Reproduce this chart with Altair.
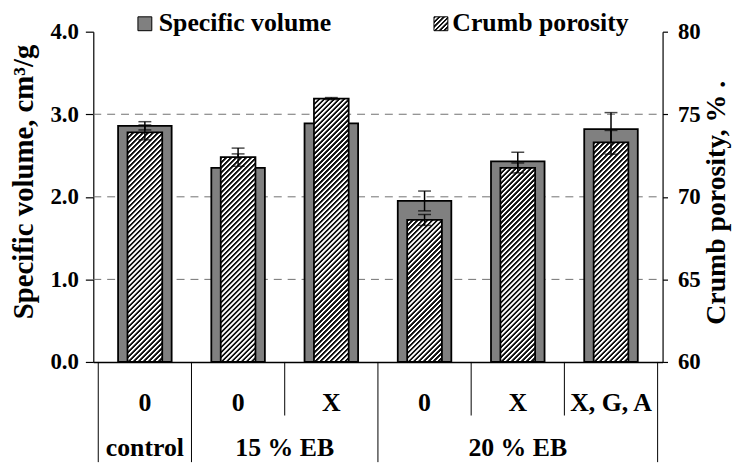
import altair as alt
import pandas as pd

# ---------------- data ----------------
categories = ["0", "0", "X", "0", "X", "X, G, A"]
groups = ["control", "15 % EB", "15 % EB", "20 % EB", "20 % EB", "20 % EB"]
specific_volume = [2.86, 2.35, 2.89, 1.95, 2.43, 2.82]
sv_error = [0.05, 0.17, 0.10, 0.12, 0.11, 0.20]
crumb_porosity = [73.9, 72.4, 75.95, 68.6, 71.75, 73.3]
porosity_error = [0.45, 0.55, 0.06, 0.33, 0.30, 0.72]
sv_ticks = [0, 1, 2, 3, 4]
por_ticks = [60, 65, 70, 75, 80]
grid_values = [1, 2, 3]

# ---------------- layout / style ----------------
W, H = 574, 333
PAD_L, PAD_T = 86, 22
TOTAL_W, TOTAL_H = 730, 456
SVG_BOTTOM = TOTAL_H - PAD_T          # in plot coordinates
FONT = "Liberation Serif"
SV_W, POR_W = 54, 35
GREY = "#808080"

n = len(categories)
df = pd.DataFrame({
    "pos": [i + 0.5 for i in range(n)],
    "cat": categories,
    "group": groups,
    "sv": specific_volume,
    "sv_lo": [v - e for v, e in zip(specific_volume, sv_error)],
    "sv_hi": [v + e for v, e in zip(specific_volume, sv_error)],
    "por": crumb_porosity,
    "por_lo": [v - e for v, e in zip(crumb_porosity, porosity_error)],
    "por_hi": [v + e for v, e in zip(crumb_porosity, porosity_error)],
})

# separators of the table below the plot
full_sep, inner_sep = [0.0, float(n)], []
for i in range(1, n):
    (full_sep if groups[i] != groups[i - 1] else inner_sep).append(float(i))
sep_full = pd.DataFrame({"pos": full_sep})
sep_inner = pd.DataFrame({"pos": inner_sep})

# group label centres
gnames, gcent = [], []
for g in dict.fromkeys(groups):
    idx = [i for i, x in enumerate(groups) if x == g]
    gnames.append(g)
    gcent.append((idx[0] + idx[-1] + 1) / 2)
gdf = pd.DataFrame({"pos": gcent, "name": gnames})


def hatch(w, h, period=5.0, dark="#111111", light="#ffffff"):
    """Diagonal '/' stripes as a linear gradient in bounding-box units."""
    k = max(1, int(round((w + h) / period)))
    a = w * (w + h) / (w * w + h * h)
    b = h * (w + h) / (w * w + h * h)
    stops = []
    for i in range(k):
        stops += [
            alt.GradientStop(offset=i / k, color=dark),
            alt.GradientStop(offset=(i + 0.38) / k, color=dark),
            alt.GradientStop(offset=(i + 0.52) / k, color=light),
            alt.GradientStop(offset=(i + 0.86) / k, color=light),
        ]
    stops.append(alt.GradientStop(offset=1.0, color=dark))
    return alt.LinearGradient(gradient="linear", x1=0, y1=0, x2=a, y2=b, stops=stops)


X = alt.X("pos:Q", scale=alt.Scale(domain=[0, n], nice=False, zero=False),
          axis=alt.Axis(labels=False, ticks=False, grid=False, title=None,
                        domainColor="black", domainWidth=1.5))

ysv_scale = alt.Scale(domain=[0, 4], nice=False, zero=True)
ypor_scale = alt.Scale(domain=[60, 80], nice=False, zero=False)

left_axis = alt.Axis(values=sv_ticks, format=".1f", tickSize=8, labelPadding=7,
                     grid=False, title="Specific volume, cm³/g", titleFontSize=29,
                     titleX=-70, titleY=151, titleAngle=270, titleBaseline="middle",
                     titleAlign="center")
right_axis = alt.Axis(orient="right", values=por_ticks, tickSize=5, labelPadding=10,
                      grid=False, title="Crumb porosity, %   .", titleFontSize=28,
                      titleX=54, titleY=172, titleAngle=270, titleBaseline="middle",
                      titleAlign="center")

base = alt.Chart(df)

# ---- specific-volume group ----
grid = alt.Chart(pd.DataFrame({"g": grid_values})).mark_rule(
    color="#707070", strokeDash=[8, 6], strokeWidth=1
).encode(y=alt.Y("g:Q", scale=ysv_scale, axis=left_axis), x=alt.value(0), x2=alt.value(W))

sv_bars = base.mark_bar(size=SV_W, fill=GREY, stroke="black", strokeWidth=1.8).encode(
    x=X, y=alt.Y("sv:Q", scale=ysv_scale, axis=left_axis))
sv_rule = base.mark_rule(color="black", strokeWidth=1.5).encode(
    x=X, y=alt.Y("sv_lo:Q", scale=ysv_scale, axis=left_axis), y2="sv_hi:Q")
sv_cap1 = base.mark_tick(orient="horizontal", size=13, thickness=1.5, color="black").encode(
    x=X, y=alt.Y("sv_lo:Q", scale=ysv_scale, axis=left_axis))
sv_cap2 = base.mark_tick(orient="horizontal", size=13, thickness=1.5, color="black").encode(
    x=X, y=alt.Y("sv_hi:Q", scale=ysv_scale, axis=left_axis))
sv_group = alt.layer(grid, sv_bars, sv_rule, sv_cap1, sv_cap2)

# ---- porosity group ----
por_layers = []
for i in range(n):
    h_px = (crumb_porosity[i] - 60) / 20 * H
    por_layers.append(
        alt.Chart(df.iloc[[i]]).mark_bar(
            size=POR_W, fill=hatch(POR_W, h_px), stroke="black", strokeWidth=1.8
        ).encode(x=X, y=alt.Y("por:Q", scale=ypor_scale, axis=right_axis), y2=alt.datum(60))
    )
por_rule = base.mark_rule(color="black", strokeWidth=1.5).encode(
    x=X, y=alt.Y("por_lo:Q", scale=ypor_scale, axis=right_axis), y2="por_hi:Q")
por_cap1 = base.mark_tick(orient="horizontal", size=13, thickness=1.5, color="black").encode(
    x=X, y=alt.Y("por_lo:Q", scale=ypor_scale, axis=right_axis))
por_cap2 = base.mark_tick(orient="horizontal", size=13, thickness=1.5, color="black").encode(
    x=X, y=alt.Y("por_hi:Q", scale=ypor_scale, axis=right_axis))
por_group = alt.layer(*por_layers, por_rule, por_cap1, por_cap2)

# ---- table below + legend ----
sep1 = alt.Chart(sep_full).mark_rule(color="black", strokeWidth=1).encode(
    x=X, y=alt.value(H), y2=alt.value(SVG_BOTTOM))
sep2 = alt.Chart(sep_inner).mark_rule(color="black", strokeWidth=1).encode(
    x=X, y=alt.value(H), y2=alt.value(H + 54))
cat_text = base.mark_text(font=FONT, fontWeight="bold", fontSize=26, baseline="alphabetic",
                          color="black").encode(x=X, y=alt.value(382), text="cat:N")
grp_text = alt.Chart(gdf).mark_text(font=FONT, fontWeight="bold", fontSize=26,
                                    baseline="alphabetic", color="black").encode(
    x=X, y=alt.value(428), text="name:N")

leg_df = pd.DataFrame({"k": [0]})
leg_sq1 = alt.Chart(leg_df).mark_square(size=196, fill=GREY, stroke="black", strokeWidth=1,
                                        opacity=1).encode(x=alt.value(52), y=alt.value(-8))
leg_sq2 = alt.Chart(leg_df).mark_square(size=196, fill=hatch(14, 14, period=4.5), stroke="black",
                                        strokeWidth=1, opacity=1).encode(
    x=alt.value(350.5), y=alt.value(-8))
leg_t1 = alt.Chart(leg_df).mark_text(text="Specific volume", font=FONT, fontWeight="bold",
                                     fontSize=26, align="left", baseline="alphabetic",
                                     color="black").encode(x=alt.value(66), y=alt.value(-1))
leg_t2 = alt.Chart(leg_df).mark_text(text="Crumb porosity", font=FONT, fontWeight="bold",
                                     fontSize=26, align="left", baseline="alphabetic",
                                     color="black").encode(x=alt.value(362), y=alt.value(-1))
deco = alt.layer(sep1, sep2, cat_text, grp_text, leg_sq1, leg_sq2, leg_t1, leg_t2)

chart = alt.layer(sv_group, por_group, deco).resolve_scale(y="independent").properties(
    width=W, height=H,
    autosize=alt.AutoSizeParams(type="none"),
    padding={"left": PAD_L, "top": PAD_T, "right": TOTAL_W - PAD_L - W,
             "bottom": TOTAL_H - PAD_T - H},
).configure_view(stroke=None).configure_axis(
    labelFont=FONT, labelFontWeight="bold", labelFontSize=23, labelColor="black",
    titleFont=FONT, titleFontWeight="bold", titleFontSize=28, titleColor="black",
    domainColor="black", tickColor="black", domainWidth=1.2, tickWidth=1.2,
)

chart.save("out.html", embed_options={"renderer": "svg", "actions": False})
